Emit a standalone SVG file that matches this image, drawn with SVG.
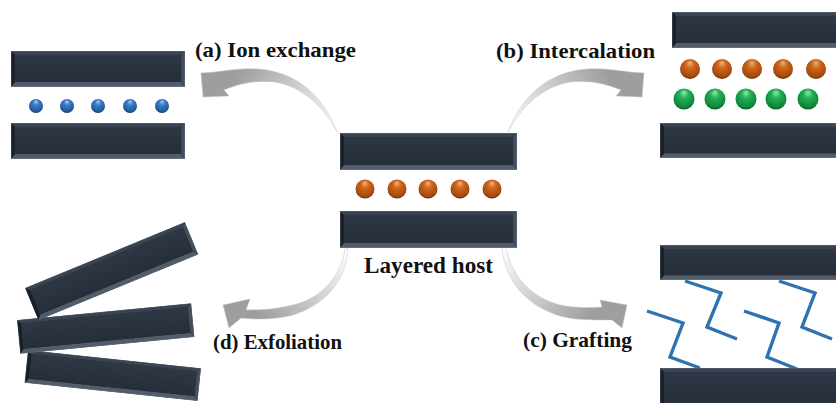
<svg xmlns="http://www.w3.org/2000/svg" xmlns:xlink="http://www.w3.org/1999/xlink" width="836" height="403" viewBox="0 0 836 403">
  <style>
    .lbl { font-family: "Liberation Serif", "Times New Roman", serif; font-weight: bold; fill: #111; }
    .chain { fill: none; stroke: #2e72b0; stroke-width: 3.4; stroke-linejoin: miter; stroke-linecap: butt; }
    .arrow { stroke: #c4c4c4; stroke-width: 0.5; }
  </style>
  <defs>
    <!-- beveled dark layer sheet -->
    <symbol id="sheet" viewBox="0 0 180 36" preserveAspectRatio="none">
      <rect x="0" y="0" width="180" height="36" fill="#1f2630"/>
      <polygon points="0,0 180,0 176,4 4,4" fill="#3a4452"/>
      <polygon points="0,36 180,36 176,31 4,31" fill="#525d6b"/>
      <polygon points="0,0 4,4 4,31 0,36" fill="#1a2029"/>
      <polygon points="180,0 176,4 176,31 180,36" fill="#444e5c"/>
      <rect x="4" y="4" width="172" height="27" fill="url(#face)"/>
      <rect x="0" y="0" width="180" height="36" fill="none" stroke="#8ea2b8" stroke-opacity="0.55" stroke-width="0.8" vector-effect="non-scaling-stroke"/>
    </symbol>
    <linearGradient id="face" x1="0" y1="0" x2="0" y2="1">
      <stop offset="0" stop-color="#2e3744"/>
      <stop offset="1" stop-color="#262e3a"/>
    </linearGradient>
    <radialGradient id="ballOrange" cx="0.5" cy="0.4" r="0.6" fx="0.5" fy="0.18">
      <stop offset="0" stop-color="#f6b27a"/>
      <stop offset="0.35" stop-color="#d0661c"/>
      <stop offset="0.85" stop-color="#a54a0e"/>
      <stop offset="1" stop-color="#6e2f06"/>
    </radialGradient>
    <radialGradient id="ballGreen" cx="0.5" cy="0.4" r="0.6" fx="0.5" fy="0.18">
      <stop offset="0" stop-color="#9be8b2"/>
      <stop offset="0.35" stop-color="#22b257"/>
      <stop offset="0.85" stop-color="#0f8a3b"/>
      <stop offset="1" stop-color="#075a25"/>
    </radialGradient>
    <radialGradient id="ballBlue" cx="0.5" cy="0.4" r="0.6" fx="0.5" fy="0.18">
      <stop offset="0" stop-color="#a6cdf2"/>
      <stop offset="0.35" stop-color="#3a7cc4"/>
      <stop offset="0.85" stop-color="#24599a"/>
      <stop offset="1" stop-color="#143561"/>
    </radialGradient>
    <linearGradient id="gradA" gradientUnits="userSpaceOnUse" x1="337" y1="132" x2="235" y2="78">
      <stop offset="0" stop-color="#ffffff"/>
      <stop offset="0.25" stop-color="#e4e4e4"/>
      <stop offset="1" stop-color="#9e9e9e"/>
    </linearGradient>
    <linearGradient id="gradB" gradientUnits="userSpaceOnUse" x1="508" y1="132" x2="610" y2="78">
      <stop offset="0" stop-color="#ffffff"/>
      <stop offset="0.25" stop-color="#e4e4e4"/>
      <stop offset="1" stop-color="#9e9e9e"/>
    </linearGradient>
    <linearGradient id="gradD" gradientUnits="userSpaceOnUse" x1="347" y1="250" x2="258" y2="315">
      <stop offset="0" stop-color="#ffffff"/>
      <stop offset="0.25" stop-color="#e4e4e4"/>
      <stop offset="1" stop-color="#9e9e9e"/>
    </linearGradient>
    <linearGradient id="gradC" gradientUnits="userSpaceOnUse" x1="503" y1="246" x2="592" y2="315">
      <stop offset="0" stop-color="#ffffff"/>
      <stop offset="0.25" stop-color="#e4e4e4"/>
      <stop offset="1" stop-color="#9e9e9e"/>
    </linearGradient>
  </defs>

  <rect x="0" y="0" width="836" height="403" fill="#ffffff"/>

  <!-- curved process arrows -->
  <g id="connectors">
    <path id="arrow-a" class="arrow" fill="url(#gradA)" d="M 337,132 C 325,100 300,72 258,69 C 240,68 225,71 215,72 L 201,73 L 203,97 L 229,96 L 224,90 C 240,83 258,80 275,82 C 300,86 322,104 337,132 Z"/>
    <path id="arrow-b" class="arrow" fill="url(#gradB)" d="M 508,132 C 520,100 545,72 587,69 C 605,68 620,71 630,72 L 644,73 L 642,97 L 616,96 L 621,90 C 605,83 587,80 570,82 C 545,86 523,104 508,132 Z"/>
    <path id="arrow-d" class="arrow" fill="url(#gradD)" d="M 348,248 C 347,280 325,305 293,315 C 278,319 260,320 241,318 L 229,328 L 223,305 L 250,299 L 246,310 C 262,310 280,309 300,303 C 324,295 341,275 345,249 Z"/>
    <path id="arrow-c" class="arrow" fill="url(#gradC)" d="M 502,245 C 503,285 535,314 575,319 C 590,320 603,320 612,320 L 622,328 L 627,305 L 600,300 L 602,307 C 590,308 575,308 560,305 C 530,297 510,275 506,245 Z"/>
  </g>

  <!-- layered host in the middle -->
  <g id="host">
    <use xlink:href="#sheet" x="340" y="133" width="177" height="37"/>
    <use xlink:href="#sheet" x="340" y="211" width="177" height="37"/>
    <g fill="url(#ballOrange)">
      <circle cx="365" cy="189" r="9.5"/>
      <circle cx="397" cy="189" r="9.5"/>
      <circle cx="428" cy="189" r="9.5"/>
      <circle cx="460" cy="189" r="9.5"/>
      <circle cx="492" cy="189" r="9.5"/>
    </g>
    <text class="lbl" x="364" y="273" font-size="23" textLength="129" lengthAdjust="spacingAndGlyphs">Layered host</text>
  </g>

  <!-- (a) ion exchange -->
  <g id="ion-exchange">
    <use xlink:href="#sheet" x="11" y="51" width="174" height="36"/>
    <use xlink:href="#sheet" x="11" y="123" width="174" height="36"/>
    <g fill="url(#ballBlue)">
      <circle cx="36" cy="106" r="7"/>
      <circle cx="67" cy="106" r="7"/>
      <circle cx="98" cy="106" r="7"/>
      <circle cx="130" cy="106" r="7"/>
      <circle cx="162" cy="106" r="7"/>
    </g>
    <text class="lbl" x="195" y="57" font-size="21" textLength="161" lengthAdjust="spacingAndGlyphs">(a) Ion exchange</text>
  </g>

  <!-- (b) intercalation -->
  <g id="intercalation">
    <use xlink:href="#sheet" x="672" y="12" width="180" height="36"/>
    <use xlink:href="#sheet" x="660" y="123" width="190" height="35"/>
    <g fill="url(#ballOrange)">
      <circle cx="690" cy="69" r="10"/>
      <circle cx="722" cy="69" r="10"/>
      <circle cx="752" cy="69" r="10"/>
      <circle cx="783" cy="69" r="10"/>
      <circle cx="816" cy="69" r="10"/>
    </g>
    <g fill="url(#ballGreen)">
      <circle cx="684" cy="99" r="10.5"/>
      <circle cx="715" cy="99" r="10.5"/>
      <circle cx="746" cy="99" r="10.5"/>
      <circle cx="776" cy="99" r="10.5"/>
      <circle cx="808" cy="99" r="10.5"/>
    </g>
    <text class="lbl" x="496" y="58" font-size="21" textLength="159" lengthAdjust="spacingAndGlyphs">(b) Intercalation</text>
  </g>

  <!-- (c) grafting -->
  <g id="grafting">
    <g class="chain">
      <polyline points="647,311 683,323 670,357 700,368"/>
      <polyline points="685,281 721,293 707,327 737,339"/>
      <polyline points="744,311 779,323 767,357 797,369"/>
      <polyline points="779,281 815,293 802,327 832,339"/>
    </g>
    <use xlink:href="#sheet" x="660" y="245" width="190" height="35"/>
    <use xlink:href="#sheet" x="660" y="368" width="190" height="40"/>
    <text class="lbl" x="523" y="347" font-size="21" textLength="109" lengthAdjust="spacingAndGlyphs">(c) Grafting</text>
  </g>

  <!-- (d) exfoliation -->
  <g id="exfoliation">
    <use xlink:href="#sheet" x="0" y="0" width="174" height="33" transform="translate(28,350) rotate(6)"/>
    <use xlink:href="#sheet" x="0" y="0" width="175" height="34" transform="translate(17,320) rotate(-5.5)"/>
    <use xlink:href="#sheet" x="0" y="0" width="173" height="35" transform="translate(25,288) rotate(-22.4)"/>
    <text class="lbl" x="213" y="349" font-size="21" textLength="129" lengthAdjust="spacingAndGlyphs">(d) Exfoliation</text>
  </g>
</svg>
